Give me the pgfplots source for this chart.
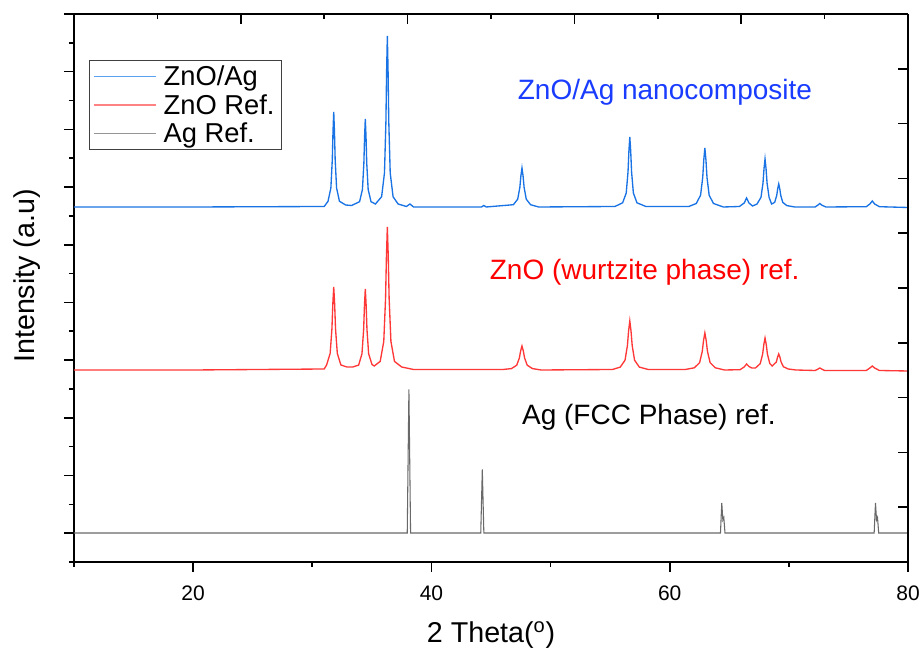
\documentclass[border=0pt]{standalone}
\usepackage{fontspec}
\setmainfont{Liberation Sans}
\usepackage{pgfplots}
\pgfplotsset{compat=1.18}
\definecolor{cblue}{RGB}{25,115,228}
\definecolor{cred}{RGB}{255,55,55}
\definecolor{cgray}{RGB}{105,105,105}
\definecolor{lblue}{RGB}{90,160,240}
\definecolor{lred}{RGB}{255,130,130}
\definecolor{lgray}{RGB}{150,150,150}
\definecolor{tblue}{RGB}{25,60,255}
\definecolor{tred}{RGB}{255,0,0}
\begin{document}
\begin{tikzpicture}
\begin{axis}[
  scale only axis, width=625.5pt, height=411pt,
  xmin=10, xmax=80, ymin=0, ymax=548,
  axis x line*=bottom, axis y line*=left,
  axis line style={-, line width=1.5pt},
  xtick={20,40,60,80}, minor xtick={10,30,50,70},
  ytick={28.84,86.53,144.21,201.89,259.58,317.26,374.95,432.63,490.32,548},
  minor ytick={0,57.68,115.37,173.05,230.74,288.42,346.1,403.79,461.47,519.16},
  yticklabels={},
  tick align=outside, major tick length=7.5pt, minor tick length=3.75pt,
  every tick/.style={line width=1.2pt, black},
  /pgf/number format/assume math mode=true,
  ticklabel style={font=\fontsize{15.75}{18}\selectfont},
  xticklabel style={yshift=-6.5pt},
  xlabel={2 Theta(\textsuperscript{o})},
  ylabel={Intensity (a.u)},
  xlabel style={at={(axis description cs:0.5,-0.1478)}, anchor=base, font=\fontsize{21.5}{24}\selectfont},
  ylabel style={at={(axis description cs:-0.0564,0.522)}, anchor=center, font=\fontsize{21.5}{24}\selectfont},
  legend cell align=left,
  legend style={at={(axis description cs:0.018,0.916)}, anchor=north west,
    draw=black!75, line width=0.6pt, font=\fontsize{20.5}{24}\selectfont,
    row sep=1pt, column sep=3pt, inner xsep=3pt, inner ysep=2pt},
  legend image code/.code={\draw[#1] (0pt,0pt) -- (46.5pt,0pt);},
]
\addlegendimage{lblue, line width=1.2pt}
\addlegendentry{ZnO/Ag}
\addlegendimage{lred, line width=1.2pt}
\addlegendentry{ZnO Ref.}
\addlegendimage{lgray, line width=1.2pt}
\addlegendentry{Ag Ref.}
\addplot[cblue, line width=1pt, forget plot] coordinates {
(10,355) (20,355) (31.0,355.5) (31.32,360.7) (31.56,374) (31.68,402.5) (31.74,431) (31.80,450)
(31.86,431) (31.92,402.5) (32.04,374) (32.28,360.7) (32.8,357) (33.3,356.5)
(33.97,360.3) (34.21,372.6) (34.33,399) (34.39,425.4) (34.45,443) (34.51,425.4) (34.57,399)
(34.69,372.6) (34.93,360.3) (35.3,358)
(35.82,365.3) (36.06,389.2) (36.18,440.5) (36.24,491.8) (36.30,526) (36.36,491.8) (36.42,440.5)
(36.54,389.2) (36.78,365.3) (37.2,358) (37.9,355.5) (38.2,358) (38.5,355)
(44.2,355) (44.4,356.5) (44.6,355)
(46.88,357.3) (47.24,362.8) (47.42,374.5) (47.51,386.2) (47.60,394) (47.69,386.2) (47.78,374.5)
(47.96,362.8) (48.32,357.3) (49.0,355)
(55.4,355.5) (56.05,359.2) (56.35,369) (56.50,390) (56.575,411) (56.65,425) (56.725,411)
(56.80,390) (56.95,369) (57.25,359.2) (58.0,355.5)
(61.6,355.5) (62.23,358.5) (62.59,366.8) (62.77,384.5) (62.86,402.2) (62.95,414) (63.04,402.2)
(63.13,384.5) (63.31,366.8) (63.67,358.5) (64.5,355)
(65.85,355.5) (66.25,359) (66.45,364) (66.65,359) (66.95,356)
(67.32,357.9) (67.66,364.6) (67.83,379) (67.915,393.4) (68.0,403) (68.085,393.4) (68.17,379)
(68.34,364.6) (68.55,358)
(68.81,359.6) (68.98,366.5) (69.065,373.4) (69.15,378) (69.235,373.4) (69.32,366.5) (69.49,359.6)
(69.83,356.4) (70.5,355)
(72.2,355) (72.45,357) (72.6,358.5) (72.75,357) (73.1,355)
(76.5,355.3) (76.8,358) (77.0,361) (77.2,358) (77.6,355.3) (80,354.5)
};
\addplot[cred, line width=1pt, forget plot] coordinates {
(10,192) (20,192) (31.0,193) (31.2,197) (31.5,208.6) (31.65,233.5) (31.725,258.4) (31.8,275)
(31.875,258.4) (31.95,233.5) (32.1,208.6) (32.4,197) (32.9,195) (33.4,195)
(33.89,196.9) (34.17,208.2) (34.31,232.5) (34.38,256.8) (34.45,273) (34.52,256.8) (34.59,232.5)
(34.73,208.2) (35.01,197.5) (35.2,196)
(35.7,200.6) (36.0,220.6) (36.15,263.5) (36.225,306.4) (36.3,335) (36.375,306.4) (36.45,263.5)
(36.6,220.6) (36.9,200.6) (37.5,195) (38.5,192.5)
(46.0,192.5) (46.72,193.4) (47.16,196.8) (47.38,204) (47.49,211.2) (47.6,216) (47.71,211.2)
(47.82,204) (48.04,196.8) (48.48,193.4) (49.2,192)
(55.2,192.5) (55.85,194.9) (56.25,201.8) (56.45,216.5) (56.55,231.2) (56.65,241) (56.75,231.2)
(56.85,216.5) (57.05,201.8) (57.45,194.9) (58.2,192.5)
(61.3,192.5) (62.07,194.2) (62.51,199.4) (62.73,210.5) (62.84,221.6) (62.95,229) (63.06,221.6)
(63.17,210.5) (63.39,199.4) (63.83,194.2) (64.6,192)
(65.9,192.3) (66.25,195) (66.45,198) (66.65,195.5) (66.9,194)
(67.2,194) (67.6,198.4) (67.8,208) (67.9,217.6) (68.0,224) (68.1,217.6) (68.2,208) (68.4,198.4) (68.6,196)
(68.95,200) (69.05,204.8) (69.15,208) (69.25,204.8) (69.35,200) (69.55,195.2) (69.95,193) (70.6,192)
(72.2,191.5) (72.45,193) (72.6,194) (72.75,193) (73.0,191.5)
(76.5,191.5) (76.8,194) (77.0,196) (77.2,194) (77.6,191.5) (80,191)
};
\addplot[cgray, line width=0.8pt, forget plot] coordinates {
(10,29) (37.97,29) (38.11,172.5) (38.25,29)
(44.14,29) (44.27,92.5) (44.40,29)
(64.26,29) (64.37,59) (64.46,42) (64.54,44.5) (64.64,29)
(77.16,29) (77.27,59) (77.36,42) (77.44,44.5) (77.54,29) (80,29)
};
\node[text=tblue, font=\fontsize{21}{24}\selectfont] at (axis cs:59.6,470) {ZnO/Ag nanocomposite};
\node[text=tred, font=\fontsize{21}{24}\selectfont] at (axis cs:57.9,290) {ZnO (wurtzite phase) ref.};
\node[text=black, font=\fontsize{21}{24}\selectfont] at (axis cs:58.26,145) {Ag (FCC Phase) ref.};
\end{axis}
\begin{axis}[
  scale only axis, width=625.5pt, height=411pt,
  xmin=10, xmax=80, ymin=0, ymax=548,
  axis x line*=top, axis y line*=right,
  axis line style={-, line width=1.5pt},
  xtick={10,24,38,52,66,80}, minor xtick={17,31,45,59,73},
  ytick={0,54.8,109.6,164.4,219.2,274,328.8,383.6,438.4,493.2,548},
  xticklabels={}, yticklabels={},
  tick align=inside, major tick length=7.5pt, minor tick length=3.5pt,
  every tick/.style={line width=1.2pt, black},
]
\end{axis}
\pgfresetboundingbox
\path (-55.5pt,-64.5pt) rectangle (635.25pt,421.5pt);
\end{tikzpicture}
\end{document}
